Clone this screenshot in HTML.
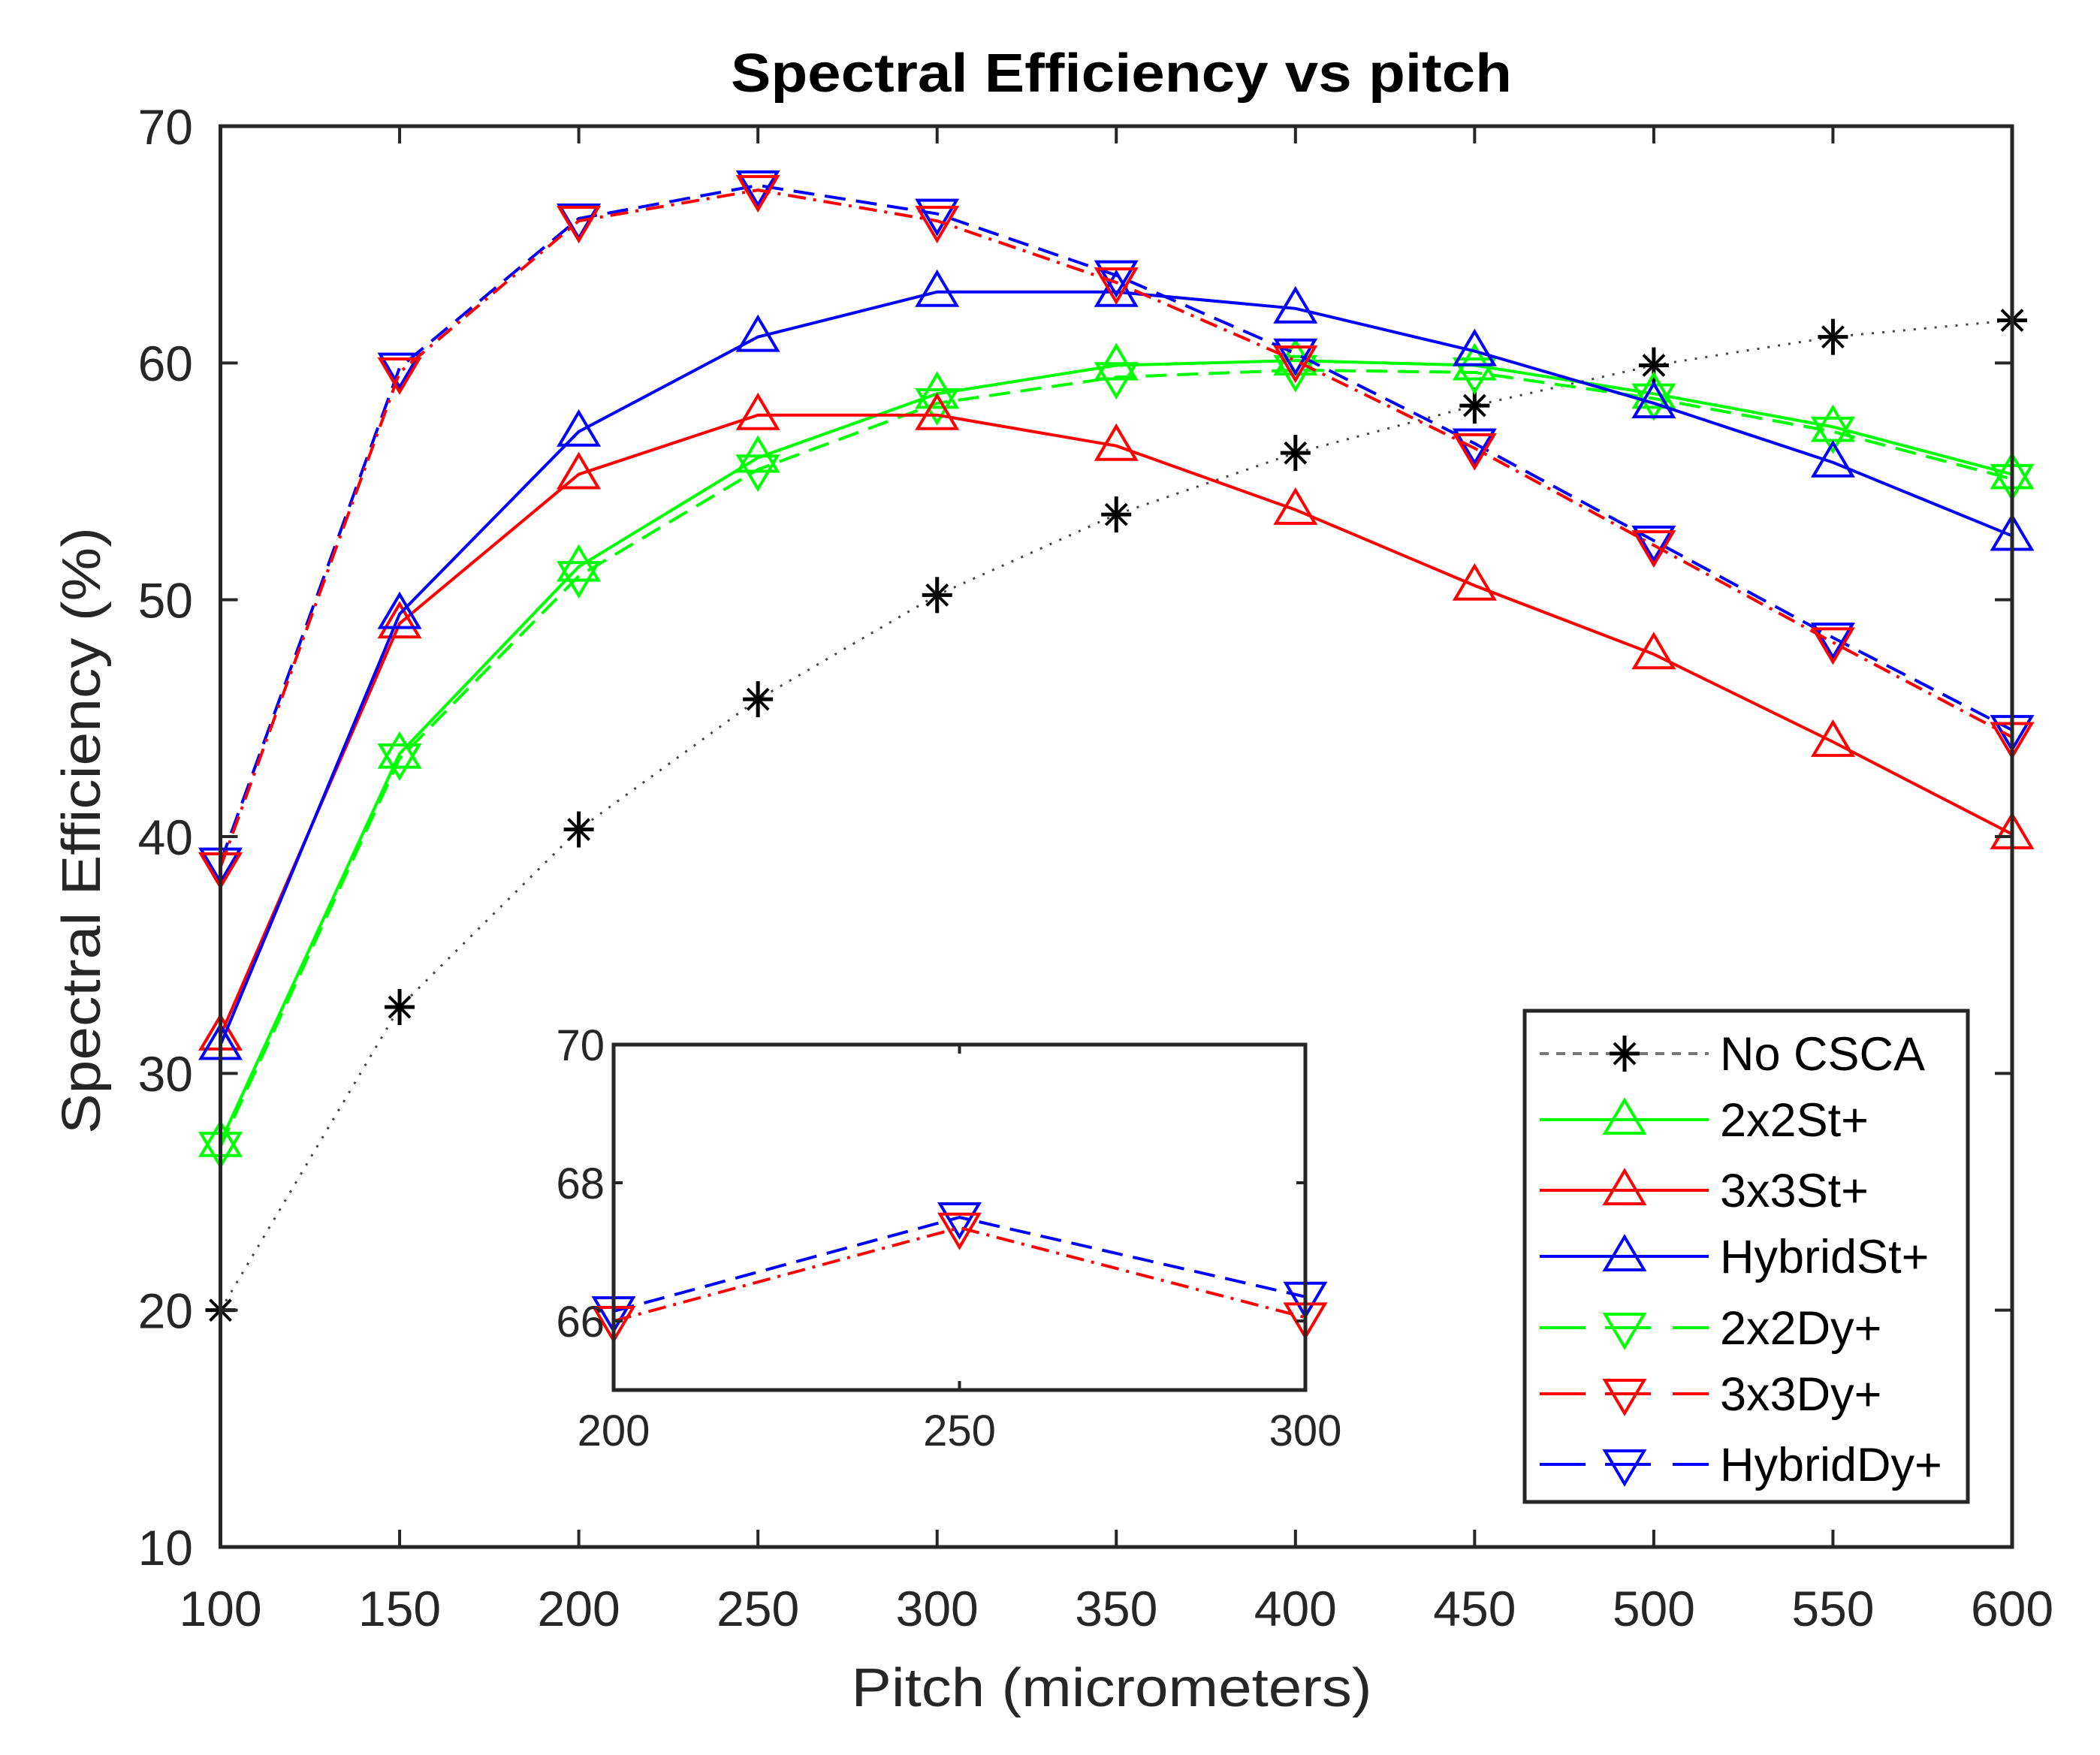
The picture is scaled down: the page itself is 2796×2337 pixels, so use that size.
<!DOCTYPE html>
<html><head><meta charset="utf-8"><style>
html,body{margin:0;padding:0;background:#fff;}
svg{display:block;font-family:"Liberation Sans",Arial,sans-serif;}
</style></head><body>
<svg id="chart" width="2796" height="2337" viewBox="0 0 2796 2337" xmlns="http://www.w3.org/2000/svg">
<rect width="2796" height="2337" fill="#fff"/>
<text x="1493" y="122" font-size="72" font-weight="bold" text-anchor="middle" fill="#000" textLength="1040" lengthAdjust="spacingAndGlyphs">Spectral Efficiency vs pitch</text>
<text x="1480" y="2272" font-size="72" text-anchor="middle" fill="#262626" textLength="693" lengthAdjust="spacingAndGlyphs">Pitch (micrometers)</text>
<text transform="translate(133,1106) rotate(-90)" font-size="72" text-anchor="middle" fill="#262626" textLength="808" lengthAdjust="spacingAndGlyphs">Spectral Efficiency (%)</text>
<g id="main"></g>
<g id="inset"></g>
<g id="legend"></g>
</svg>
<script>
const categories = [100,150,200,250,300,350,400,450,500,550,600];
const xTicks = [100,150,200,250,300,350,400,450,500,550,600];
const yTicks = [10,20,30,40,50,60,70];
const noCSCA    = [20.0,32.8,40.3,45.8,50.2,53.6,56.2,58.2,59.9,61.1,61.8];
const st2x2     = [27.1,43.5,51.4,56.0,58.7,59.9,60.1,59.9,58.7,57.3,55.3];
const st3x3     = [31.6,49.0,55.3,57.8,57.8,56.5,53.8,50.6,47.7,44.0,40.1];
const stHybrid  = [31.2,49.4,57.1,61.1,63.0,63.0,62.3,60.5,58.3,55.8,52.7];
const dy2x2     = [26.9,43.3,51.0,55.5,58.3,59.4,59.7,59.6,58.5,57.1,55.1];
const dy3x3     = [38.7,59.6,66.0,67.3,66.0,63.4,60.1,56.4,52.3,48.2,44.2];
const dyHybrid  = [38.9,59.8,66.1,67.5,66.3,63.7,60.4,56.6,52.5,48.4,44.5];
const insetCats = [200,250,300];
const insetDy3x3 = [66.0,67.35,66.05];
const insetDyHybrid = [66.14,67.5,66.35];
const insetXTicks = [200,250,300];
const insetYTicks = [66,68,70];
const legendLabels = ["No CSCA","2x2St+","3x3St+","HybridSt+","2x2Dy+","3x3Dy+","HybridDy+"];

const NS="http://www.w3.org/2000/svg";
function mk(tag,attrs,parent){const e=document.createElementNS(NS,tag);for(const k in attrs)e.setAttribute(k,attrs[k]);parent.appendChild(e);return e;}

// main axes
const L=293.5,R=2679,T=168,B=2060;
const xs=v=>L+(v-100)/500*(R-L);
const ys=v=>B-(v-10)/60*(B-T);
// inset axes
const IL=817,IR=1738,IT=1391,IB=1851;
const ixs=v=>IL+(v-200)/100*(IR-IL);
const iys=v=>IB-(v-65)/5*(IB-IT);

function triUp(g,x,y,c){const p=mk('polygon',{points:`${x},${y-26} ${x-26},${y+18} ${x+26},${y+18}`,fill:'none',stroke:c,'stroke-width':4},g);}
function triDown(g,x,y,c){const p=mk('polygon',{points:`${x},${y+26} ${x-26},${y-18} ${x+26},${y-18}`,fill:'none',stroke:c,'stroke-width':4},g);}
function star(g,x,y){const s=mk('g',{stroke:'#000','stroke-width':5},g);
 mk('line',{x1:x,y1:y-24,x2:x,y2:y+24},s);mk('line',{x1:x-20,y1:y,x2:x+20,y2:y},s);
 mk('line',{x1:x-14,y1:y-14,x2:x+14,y2:y+14,'stroke-width':4},s);mk('line',{x1:x-14,y1:y+14,x2:x+14,y2:y-14,'stroke-width':4},s);}

function series(g,name,cats,vals,fx,fy,color,dash,marker,lw){
 const sg=mk('g',{},g);
 
 
 const pts=cats.map((c,i)=>fx(c)+','+fy(vals[i])).join(' ');
 const a={points:pts,fill:'none',stroke:color,'stroke-width':lw||4};
 if(dash)a['stroke-dasharray']=dash;
 mk('polyline',a,sg);
 cats.forEach((c,i)=>{const x=fx(c),y=fy(vals[i]);if(marker==='up')triUp(sg,x,y,color);else if(marker==='down')triDown(sg,x,y,color);else star(sg,x,y);});
}

function drawAxes(g,l,r,t,b,xt,yt,fx,fy,fs,xLabY,yLabX,nameP,tickLen){
 const box=mk('rect',{x:l,y:t,width:r-l,height:b-t,fill:'none',stroke:'#262626','stroke-width':5},g);
 
 xt.forEach(v=>{const x=fx(v);
  mk('line',{x1:x,y1:b,x2:x,y2:b-tickLen,stroke:'#262626','stroke-width':4},g);
  mk('line',{x1:x,y1:t,x2:x,y2:t+tickLen,stroke:'#262626','stroke-width':4},g);
  const tx=mk('text',{x:x,y:xLabY,'font-size':fs,'text-anchor':'middle',fill:'#262626'},g);tx.textContent=v;
  });
 yt.forEach(v=>{const y=fy(v);
  mk('line',{x1:l,y1:y,x2:l+tickLen,y2:y,stroke:'#262626','stroke-width':4},g);
  mk('line',{x1:r,y1:y,x2:r-tickLen,y2:y,stroke:'#262626','stroke-width':4},g);
  const tx=mk('text',{x:yLabX,y:y+fs*0.36,'font-size':fs,'text-anchor':'end',fill:'#262626'},g);tx.textContent=v;
  });
}

const main=document.getElementById('main');
mk('rect',{x:L,y:T,width:R-L,height:B-T,fill:'#fff'},main);
series(main,'series-no-csca',categories,noCSCA,xs,ys,'#444','3 11','star',3);
series(main,'series-2x2st',categories,st2x2,xs,ys,'#00ff00',null,'up');
series(main,'series-2x2dy',categories,dy2x2,xs,ys,'#00ff00','28 14','down');
series(main,'series-3x3st',categories,st3x3,xs,ys,'#ff0000',null,'up');
series(main,'series-hybridst',categories,stHybrid,xs,ys,'#0000ff',null,'up');
series(main,'series-hybriddy',categories,dyHybrid,xs,ys,'#0000ff','28 14','down');
series(main,'series-3x3dy',categories,dy3x3,xs,ys,'#ff0000','24 10 4 10','down');
drawAxes(main,L,R,T,B,xTicks,yTicks,xs,ys,66,2165,257,'main',23);

const inset=document.getElementById('inset');
const ibg=mk('rect',{x:IL,y:IT,width:IR-IL,height:IB-IT,fill:'#fff'},inset);

series(inset,'inset-series-hybriddy',insetCats,insetDyHybrid,ixs,iys,'#0000ff','28 14','down');
series(inset,'inset-series-3x3dy',insetCats,insetDy3x3,ixs,iys,'#ff0000','24 10 4 10','down');
drawAxes(inset,IL,IR,IT,IB,insetXTicks,insetYTicks,ixs,iys,58,1925,805,'inset',12);

const lg=document.getElementById('legend');
const lb=mk('rect',{x:2030,y:1346,width:590,height:654,fill:'#fff',stroke:'#262626','stroke-width':5},lg);

const rowY=[1403,1491,1585,1673,1768,1856,1950];
const lColors=['#666','#00ff00','#ff0000','#0000ff','#00ff00','#ff0000','#0000ff'];
legendLabels.forEach((lab,i)=>{
 const e=mk('g',{},lg);
 
 
 const y=rowY[i],c=lColors[i];
 if(i===0){mk('line',{x1:2050,y1:y,x2:2275,y2:y,stroke:'#777','stroke-width':4,'stroke-dasharray':'12 10'},e);star(e,2163,y);}
 else if(i<4){mk('line',{x1:2050,y1:y,x2:2275,y2:y,stroke:c,'stroke-width':4},e);triUp(e,2163,y,c);}
 else{mk('line',{x1:2050,y1:y,x2:2111,y2:y,stroke:c,'stroke-width':4},e);mk('line',{x1:2137,y1:y,x2:2198,y2:y,stroke:c,'stroke-width':4},e);mk('line',{x1:2227,y1:y,x2:2275,y2:y,stroke:c,'stroke-width':4},e);triDown(e,2163,y,c);}
 const t=mk('text',{x:2290,y:y+22,'font-size':63,fill:'#000'},e);t.textContent=lab;
});
</script>
</body></html>
